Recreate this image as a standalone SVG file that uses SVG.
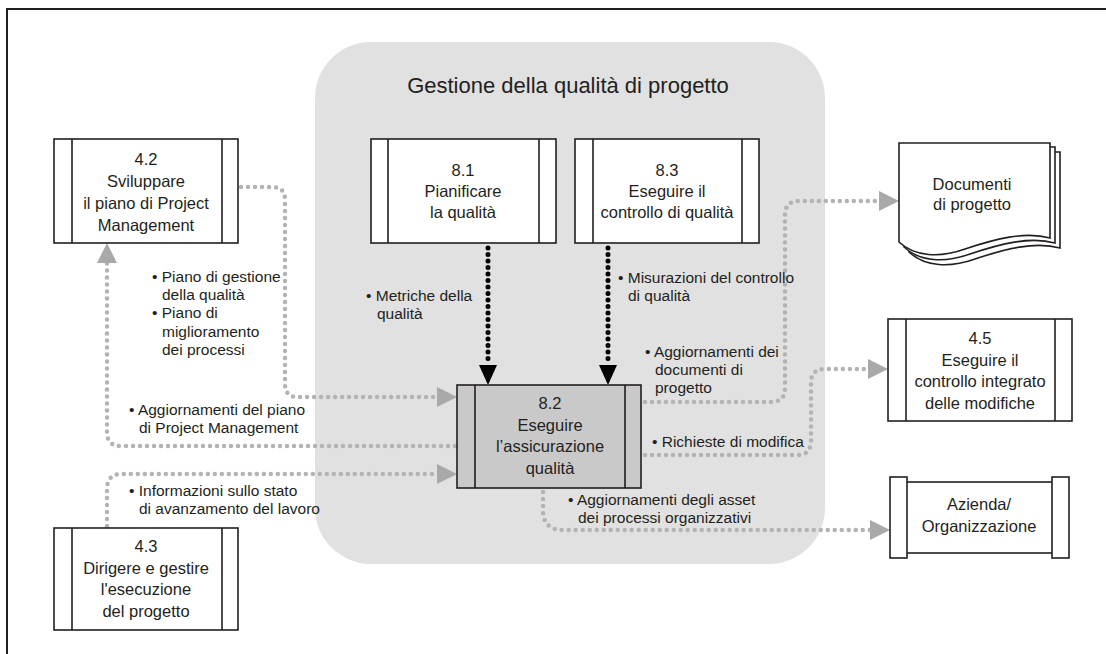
<svg xmlns="http://www.w3.org/2000/svg" width="1106" height="654" viewBox="0 0 1106 654">
  <style>
    .frame { fill: none; stroke: #231f20; stroke-width: 2; }
    .panel { fill: #e1e1e1; }
    .box { fill: #ffffff; stroke: #231f20; stroke-width: 1.6; }
    .box-hi { fill: #c9c9c9; stroke: #231f20; stroke-width: 1.6; }
    .bar { fill: none; stroke: #231f20; stroke-width: 1.6; }
    .t { font-family: "Liberation Sans", Arial, sans-serif; fill: #231f20; }
    .title { font-size: 22px; text-anchor: middle; }
    .node { font-size: 16.5px; text-anchor: middle; }
    .lbl { font-size: 15.5px; }
    .gdots { fill: none; stroke: #b3b3b3; stroke-width: 4.5; stroke-linecap: round; stroke-dasharray: 0 7; }
    .kdots { fill: none; stroke: #000000; stroke-width: 5; stroke-linecap: round; stroke-dasharray: 0 6.5; }
  </style>
  <defs>
    <marker id="arrowGray" markerUnits="userSpaceOnUse" viewBox="0 0 20 20" refX="0" refY="10" markerWidth="20" markerHeight="20" orient="auto">
      <path d="M0,0 L20,10 L0,20 Z" fill="#a9a9a9"/>
    </marker>
    <marker id="arrowBlack" markerUnits="userSpaceOnUse" viewBox="0 0 20 18" refX="0" refY="9" markerWidth="20" markerHeight="18" orient="auto">
      <path d="M0,0 L20,9 L0,18 Z" fill="#000000"/>
    </marker>
  </defs>

  <!-- page frame -->
  <path class="frame" d="M7,654 V9 H1106"/>

  <!-- process group background -->
  <g id="group-quality">
    <rect class="panel" x="315" y="42" width="510" height="522" rx="56" ry="56"/>
    <text class="t title" x="568" y="93">Gestione della qualità di progetto</text>
  </g>

  <!-- connectors -->
  <g id="connectors">
    <path class="gdots" d="M241,187 H272 Q285,187 285,200 V384 Q285,397 298,397 H437" marker-end="url(#arrowGray)"/>
    <path class="gdots" d="M455,446 H121 Q107,446 107,432 V263" marker-end="url(#arrowGray)"/>
    <path class="gdots" d="M107,526 V489 Q107,474 122,474 H437" marker-end="url(#arrowGray)"/>
    <path class="kdots" d="M488,248 V365" marker-end="url(#arrowBlack)"/>
    <path class="kdots" d="M608,248 V365" marker-end="url(#arrowBlack)"/>
    <path class="gdots" d="M645,402 H771 Q785,402 785,388 V215 Q785,201 799,201 H879" marker-end="url(#arrowGray)"/>
    <path class="gdots" d="M645,455 H797 Q811,455 811,441 V383 Q811,369 825,369 H868" marker-end="url(#arrowGray)"/>
    <path class="gdots" d="M543,492 V510 Q543,530 563,530 H870" marker-end="url(#arrowGray)"/>
  </g>

  <!-- 4.2 -->
  <g id="node-4-2">
    <rect class="box" x="54" y="139" width="184" height="104"/>
    <path class="bar" d="M72,139 V243 M222,139 V243"/>
    <text class="t node" x="146" y="165">4.2</text>
    <text class="t node" x="146" y="187">Sviluppare</text>
    <text class="t node" x="146" y="209">il piano di Project</text>
    <text class="t node" x="146" y="231">Management</text>
  </g>

  <!-- 8.1 -->
  <g id="node-8-1">
    <rect class="box" x="371" y="139" width="185" height="104"/>
    <path class="bar" d="M388,139 V243 M539,139 V243"/>
    <text class="t node" x="463" y="176">8.1</text>
    <text class="t node" x="463" y="197">Pianificare</text>
    <text class="t node" x="463" y="218">la qualità</text>
  </g>

  <!-- 8.3 -->
  <g id="node-8-3">
    <rect class="box" x="575" y="139" width="184" height="104"/>
    <path class="bar" d="M593,139 V243 M742,139 V243"/>
    <text class="t node" x="667" y="176">8.3</text>
    <text class="t node" x="667" y="197">Eseguire il</text>
    <text class="t node" x="667" y="218">controllo di qualità</text>
  </g>

  <!-- 8.2 -->
  <g id="node-8-2">
    <rect class="box-hi" x="457" y="385" width="184" height="103"/>
    <path class="bar" d="M475,385 V488 M625,385 V488"/>
    <text class="t node" x="550" y="409">8.2</text>
    <text class="t node" x="550" y="431">Eseguire</text>
    <text class="t node" x="550" y="452">l’assicurazione</text>
    <text class="t node" x="550" y="474">qualità</text>
  </g>

  <!-- 4.3 -->
  <g id="node-4-3">
    <rect class="box" x="54" y="528" width="184" height="102"/>
    <path class="bar" d="M72,528 V630 M222,528 V630"/>
    <text class="t node" x="146" y="552">4.3</text>
    <text class="t node" x="146" y="574">Dirigere e gestire</text>
    <text class="t node" x="146" y="595">l'esecuzione</text>
    <text class="t node" x="146" y="617">del progetto</text>
  </g>

  <!-- project documents (stacked pages) -->
  <g id="node-documents">
    <path class="box" d="M909,152 H1060 V248 C1035,241 1005,249 975,259 C950,268 925,267 909,252 Z"/>
    <path class="box" d="M904,147 H1055 V243 C1030,236 1000,244 970,254 C945,263 920,262 904,247 Z"/>
    <path class="box" d="M899,143 H1050 V238 C1025,231 995,239 965,249 C940,258 915,257 899,242 Z"/>
    <text class="t node" x="972" y="190">Documenti</text>
    <text class="t node" x="972" y="210">di progetto</text>
  </g>

  <!-- 4.5 -->
  <g id="node-4-5">
    <rect class="box" x="888" y="319" width="184" height="102"/>
    <path class="bar" d="M906,319 V421 M1055,319 V421"/>
    <text class="t node" x="980" y="344">4.5</text>
    <text class="t node" x="980" y="366">Eseguire il</text>
    <text class="t node" x="980" y="387">controllo integrato</text>
    <text class="t node" x="980" y="409">delle modifiche</text>
  </g>

  <!-- enterprise / organization -->
  <g id="node-organization">
    <rect class="box" x="906" y="482" width="147" height="71"/>
    <rect class="box" x="890" y="477" width="17" height="81"/>
    <rect class="box" x="1052" y="477" width="17" height="81"/>
    <text class="t node" x="979" y="510">Azienda/</text>
    <text class="t node" x="979" y="532">Organizzazione</text>
  </g>

  <!-- flow labels -->
  <g id="labels">
    <text class="t lbl" x="152" y="282">• Piano di gestione</text>
    <text class="t lbl" x="162" y="300">della qualità</text>
    <text class="t lbl" x="152" y="318">• Piano di</text>
    <text class="t lbl" x="162" y="337">miglioramento</text>
    <text class="t lbl" x="162" y="355">dei processi</text>

    <text class="t lbl" x="366" y="301">• Metriche della</text>
    <text class="t lbl" x="377" y="319">qualità</text>

    <text class="t lbl" x="618" y="283">• Misurazioni del controllo</text>
    <text class="t lbl" x="628" y="301">di qualità</text>

    <text class="t lbl" x="645" y="357">• Aggiornamenti dei</text>
    <text class="t lbl" x="655" y="375">documenti di</text>
    <text class="t lbl" x="655" y="393">progetto</text>

    <text class="t lbl" x="652" y="447">• Richieste di modifica</text>

    <text class="t lbl" x="568" y="505">• Aggiornamenti degli asset</text>
    <text class="t lbl" x="578" y="523">dei processi organizzativi</text>

    <text class="t lbl" x="129" y="415">• Aggiornamenti del piano</text>
    <text class="t lbl" x="139" y="433">di Project Management</text>

    <text class="t lbl" x="129" y="496">• Informazioni sullo stato</text>
    <text class="t lbl" x="139" y="514">di avanzamento del lavoro</text>
  </g>
</svg>
